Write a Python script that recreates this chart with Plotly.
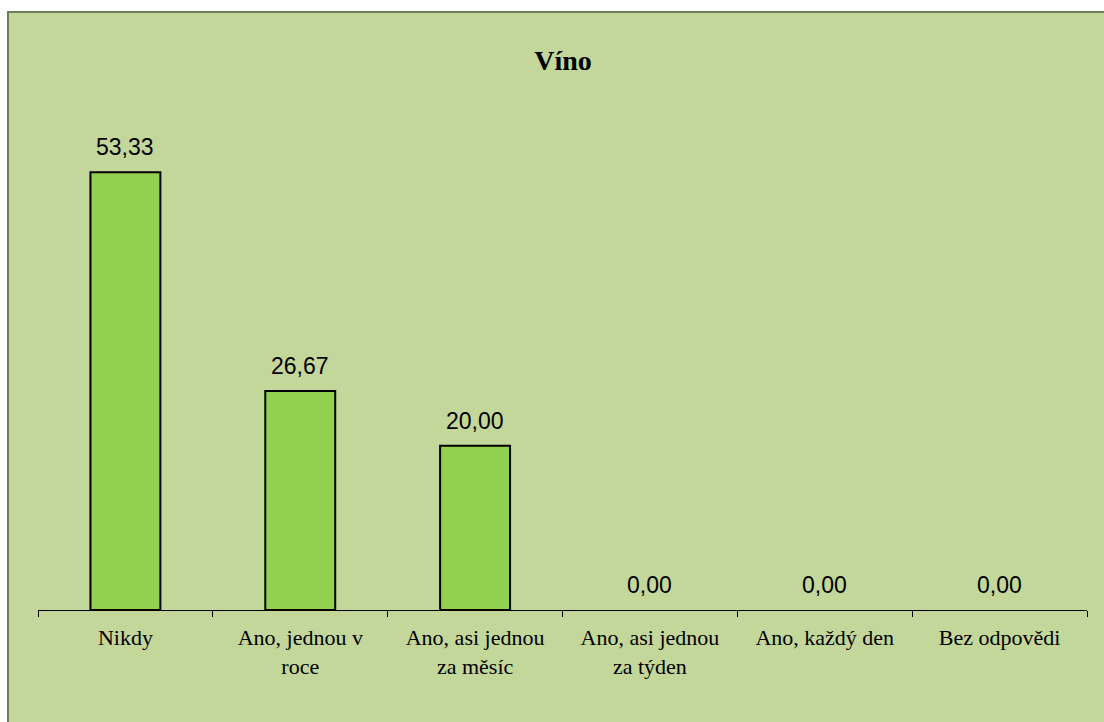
import plotly.graph_objects as go

categories = ["Nikdy", "Ano, jednou v<br>roce", "Ano, asi jednou<br>za měsíc",
              "Ano, asi jednou<br>za týden", "Ano, každý den", "Bez odpovědi"]
values = [53.33, 26.67, 20.00, 0.00, 0.00, 0.00]
title_text = "Víno"

SERIF = "Liberation Serif"

fig = go.Figure(go.Bar(
    x=categories, y=values,
    marker=dict(color="#92D050",
                line=dict(color="black", width=[2 if v > 0 else 0 for v in values])),
    hoverinfo="x+y",
))

for c, v in zip(categories, values):
    fig.add_annotation(x=c, y=v, text=f"{v:.2f}".replace(".", ","),
                       showarrow=False, yanchor="bottom", yshift=10,
                       font=dict(family="Liberation Sans", size=23, color="black"))

fig.update_layout(
    width=1104, height=722,
    paper_bgcolor="white", plot_bgcolor="rgba(0,0,0,0)",
    separators=", ",
    margin=dict(l=38, r=17, t=100, b=112),
    bargap=0.6,
    showlegend=False,
    title=dict(text="<b>" + title_text + "</b>", x=563/1104, xanchor="center",
               y=1 - 60/722, yanchor="middle",
               font=dict(family=SERIF, size=28, color="black")),
    shapes=[dict(type="rect", xref="paper", yref="paper",
                 x0=-30/1049, x1=1.1, y0=-0.3, y1=1 + 88/510,
                 fillcolor="#C4D79B", line=dict(color="#6E7D55", width=2), layer="below")],
)
fig.update_xaxes(
    showline=True, linecolor="black", linewidth=1,
    ticks="outside", ticklen=6, tickcolor="black", tickson="boundaries",
    ticklabelstandoff=8,
    tickfont=dict(family=SERIF, size=22, color="black"),
    showgrid=False, fixedrange=True,
)
fig.update_yaxes(visible=False, range=[0, 510/8.21], showgrid=False, zeroline=False,
                 fixedrange=True)

fig.write_html("out.html", post_script="document.body.style.margin='0';",
               config={"displayModeBar": False})
